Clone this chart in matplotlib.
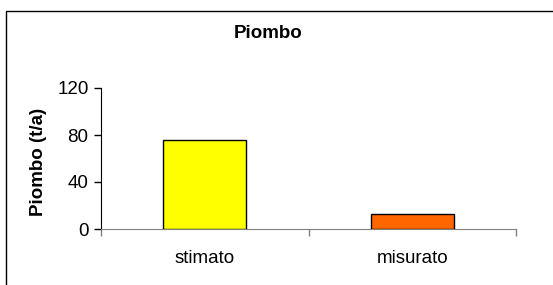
import matplotlib.pyplot as plt
from matplotlib.patches import Rectangle

categories = ['stimato', 'misurato']
values = [76, 13]
colors = ['#FFFF00', '#FF6600']
yticks = [0, 40, 80, 120]

plt.rcParams['font.family'] = ['Liberation Sans', 'DejaVu Sans']

fig = plt.figure(figsize=(5.53, 2.85), dpi=100)
ax = fig.add_axes([101 / 553, 1 - 229 / 285, 415 / 553, 141 / 285])

x = list(range(len(categories)))
ax.bar(x, values, width=0.4, color=colors, edgecolor='black', linewidth=1, zorder=3)

ax.set_xlim(-0.5, len(categories) - 0.5)
ax.set_ylim(0, 120)
ax.set_yticks(yticks)
ax.set_xticks(x)
ax.set_xticklabels(categories, fontsize=13.5)
ax.set_xticks([i - 0.5 for i in range(len(categories) + 1)], minor=True)
ax.tick_params(axis='x', which='major', length=0, pad=15)
ax.tick_params(axis='x', which='minor', length=5, color='#808080', width=1)
ax.tick_params(axis='y', length=5, width=1, labelsize=13.5, pad=4)

for side in ['top', 'right']:
    ax.spines[side].set_visible(False)
ax.spines['bottom'].set_color('#808080')
ax.spines['left'].set_color('black')

ax.set_ylabel('Piombo (t/a)', fontsize=13.5, fontweight='bold')
ax.yaxis.set_label_coords(-54 / 415, 0.475)
fig.text(268 / 553, 1 - 33 / 285, 'Piombo', ha='center', va='center',
         fontsize=13.5, fontweight='bold')

# outer chart border
fig.patches.append(Rectangle((6 / 553, -0.2), 1.2, 1.2 - 11 / 285,
                             transform=fig.transFigure, fill=False,
                             edgecolor='black', linewidth=1))

fig.savefig('out.png', dpi=100)
